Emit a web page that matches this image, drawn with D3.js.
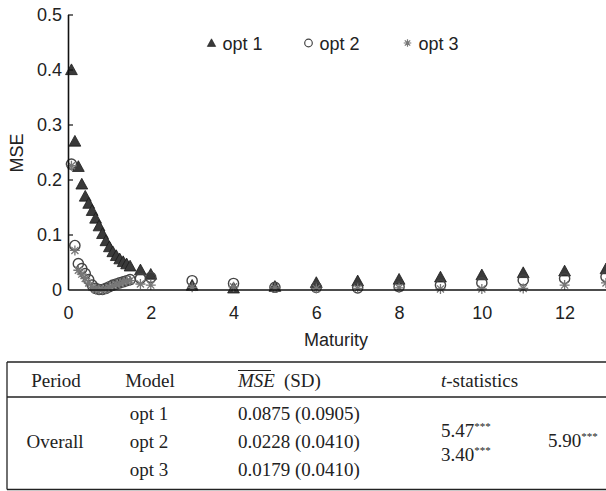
<!DOCTYPE html>
<html>
<head>
<meta charset="utf-8">
<script src="https://cdn.jsdelivr.net/npm/d3@7"></script>
<style>
  body { margin: 0; background: #fff; }
  svg { display: block; }
  .sans { font-family: "Liberation Sans", Arial, sans-serif; fill: #222; }
  .serif { font-family: "Liberation Serif", "Times New Roman", serif; fill: #222; }
</style>
</head>
<body>
<svg id="fig" width="606" height="491"></svg>
<script>
// maturities (years)
const maturity = [1/12, 2/12, 3/12, 4/12, 5/12, 6/12, 7/12, 8/12, 9/12, 10/12, 11/12, 1,
                  13/12, 14/12, 15/12, 16/12, 17/12, 18/12, 1.75, 2,
                  3, 4, 5, 6, 7, 8, 9, 10, 11, 12, 13];
const opt1 = [0.398, 0.268, 0.222, 0.190, 0.168, 0.155, 0.142, 0.128, 0.114, 0.100, 0.087, 0.076,
              0.067, 0.060, 0.054, 0.049, 0.045, 0.041, 0.034, 0.026,
              0.006, 0.001, 0.004, 0.011, 0.014, 0.017, 0.021, 0.025, 0.029, 0.032, 0.036];
const opt2 = [0.228, 0.080, 0.047, 0.038, 0.029, 0.018, 0.008, 0.002, 0.000, 0.000, 0.002, 0.005,
              0.008, 0.010, 0.012, 0.014, 0.016, 0.018, 0.020, 0.022,
              0.016, 0.011, 0.004, 0.004, 0.003, 0.005, 0.008, 0.012, 0.017, 0.020, 0.023];
const opt3 = [0.225, 0.071, 0.035, 0.028, 0.020, 0.012, 0.004, 0.000, 0.000, 0.000, 0.001, 0.004,
              0.007, 0.009, 0.011, 0.013, 0.015, 0.016, 0.010, 0.008,
              0.004, 0.005, 0.003, 0.002, 0.002, 0.003, 0.001, 0.001, 0.002, 0.008, 0.012];

const xTicks = [0, 2, 4, 6, 8, 10, 12];
const yTicks = [0, 0.1, 0.2, 0.3, 0.4, 0.5];
const seriesNames = ["opt 1", "opt 2", "opt 3"];

// table contents
const tableHead = ["Period", "Model", "(SD)", "-statistics"];
const models = ["opt 1", "opt 2", "opt 3"];
const mseText = ["0.0875 (0.0905)", "0.0228 (0.0410)", "0.0179 (0.0410)"];
const tStats = ["5.47", "3.40", "5.90"];

const svg = d3.select("#fig");

let x = d3.scaleLinear().domain([0, 13]).range([68, 606]);
let y = d3.scaleLinear().domain([0, 0.5]).range([289.5, 14.5]);

// marker shapes
const triPath = s => `M0,${-s}L${s},${s * 0.82}L${-s},${s * 0.82}Z`;
const starPath = s => {
  let d = "";
  for (let k = 0; k < 4; k++) {
    let a = k * Math.PI / 4;
    let dx = s * Math.sin(a), dy = s * Math.cos(a);
    d += `M${-dx},${-dy}L${dx},${dy}`;
  }
  return d;
};

const pts = maturity.map((m, i) => ({m: m, a: opt1[i], b: opt2[i], c: opt3[i]}));

// opt 1 triangles
svg.append("g").selectAll("path")
  .data(pts).enter().append("path")
  .attr("d", triPath(5.9))
  .attr("transform", d => `translate(${x(d.m)},${y(d.a) - 0.8})`)
  .style("fill", "#3a3a3a")
  .style("stroke", "#1a1a1a")
  .style("stroke-width", 0.8);

// opt 2 circles
svg.append("g").selectAll("circle")
  .data(pts).enter().append("circle")
  .attr("cx", d => x(d.m))
  .attr("cy", d => y(d.b))
  .attr("r", 5.1)
  .style("fill", "none")
  .style("stroke", "#444")
  .style("stroke-width", 1.4);

// opt 3 asterisks
svg.append("g").selectAll("path")
  .data(pts).enter().append("path")
  .attr("d", starPath(5))
  .attr("transform", d => `translate(${x(d.m)},${y(d.c)})`)
  .style("fill", "none")
  .style("stroke", "#777")
  .style("stroke-width", 1.3);

// axes
let yAxis = d3.axisLeft(y).tickValues(yTicks).tickSize(-5).tickSizeOuter(0)
  .tickPadding(6).tickFormat(d => d);
let xAxis = d3.axisBottom(x).tickValues(xTicks).tickSize(0).tickSizeOuter(0)
  .tickPadding(17).tickFormat(d => d);

let gx = svg.append("g").attr("transform", `translate(0,${y(0)})`).call(xAxis);
let gy = svg.append("g").attr("transform", `translate(${x(0)},0)`).call(yAxis);

[gx, gy].forEach(g => {
  g.select(".domain").style("stroke", "#111").style("stroke-width", 1.6);
  g.selectAll(".tick line").style("stroke", "#111").style("stroke-width", 1.2);
  g.selectAll("text").attr("class", "sans").style("font-size", "18px");
});
gy.selectAll(".tick").filter(d => d === 0).select("line").remove();

svg.append("text").attr("class", "sans")
  .attr("transform", "translate(23,153) rotate(-90)")
  .attr("text-anchor", "middle")
  .style("font-size", "18px")
  .text("MSE");

svg.append("text").attr("class", "sans")
  .attr("x", 336).attr("y", 346)
  .attr("text-anchor", "middle")
  .style("font-size", "18px")
  .text("Maturity");

// legend
const legX = [211.5, 308.5, 407.5];
const leg = svg.append("g");
leg.append("path").attr("d", triPath(4.2))
  .attr("transform", `translate(${legX[0]},43)`)
  .style("fill", "#3a3a3a").style("stroke", "#1a1a1a").style("stroke-width", 0.6);
leg.append("circle").attr("cx", legX[1]).attr("cy", 43).attr("r", 3.8)
  .style("fill", "none").style("stroke", "#444").style("stroke-width", 1.2);
leg.append("path").attr("d", starPath(3.8))
  .attr("transform", `translate(${legX[2]},43)`)
  .style("fill", "none").style("stroke", "#777").style("stroke-width", 1.2);
leg.selectAll("text").data(seriesNames).enter().append("text")
  .attr("class", "sans")
  .attr("x", (d, i) => legX[i] + 11)
  .attr("y", 49.5)
  .style("font-size", "18px")
  .text(d => d);

// table
const tb = svg.append("g");
const lineStyle = sel => sel.style("stroke", "#222").style("stroke-width", 1.3);
tb.append("line").attr("x1", 7).attr("x2", 606).attr("y1", 362).attr("y2", 362).call(lineStyle);
tb.append("line").attr("x1", 7).attr("x2", 606).attr("y1", 397).attr("y2", 397).call(lineStyle);
tb.append("line").attr("x1", 7).attr("x2", 606).attr("y1", 489.5).attr("y2", 489.5).call(lineStyle);
tb.append("line").attr("x1", 7).attr("x2", 7).attr("y1", 362).attr("y2", 489.5).call(lineStyle);

const fs = "19px";
tb.append("text").attr("class", "serif").attr("x", 56).attr("y", 387)
  .attr("text-anchor", "middle").style("font-size", fs).text(tableHead[0]);
tb.append("text").attr("class", "serif").attr("x", 150).attr("y", 387)
  .attr("text-anchor", "middle").style("font-size", fs).text(tableHead[1]);
let mh = tb.append("text").attr("class", "serif").attr("x", 238).attr("y", 387)
  .style("font-size", fs);
mh.append("tspan").style("font-style", "italic").text("MSE");
mh.append("tspan").attr("dx", 9).text(tableHead[2]);
tb.append("line").attr("x1", 238).attr("x2", 271).attr("y1", 370.5).attr("y2", 370.5)
  .style("stroke", "#222").style("stroke-width", 1);
let th = tb.append("text").attr("class", "serif").attr("x", 441).attr("y", 387)
  .style("font-size", fs);
th.append("tspan").style("font-style", "italic").text("t");
th.append("tspan").text(tableHead[3]);

tb.append("text").attr("class", "serif").attr("x", 55).attr("y", 448)
  .attr("text-anchor", "middle").style("font-size", fs).text("Overall");

const rowY = [420, 448, 476];
tb.selectAll(".model").data(models).enter().append("text")
  .attr("class", "serif model")
  .attr("x", 149).attr("y", (d, i) => rowY[i])
  .attr("text-anchor", "middle").style("font-size", fs).text(d => d);
tb.selectAll(".mse").data(mseText).enter().append("text")
  .attr("class", "serif mse")
  .attr("x", 238).attr("y", (d, i) => rowY[i])
  .style("font-size", fs).text(d => d);

const tPos = [[441, 437], [441, 461], [548, 447]];
tStats.forEach((t, i) => {
  let tx = tb.append("text").attr("class", "serif")
    .attr("x", tPos[i][0]).attr("y", tPos[i][1]).style("font-size", fs);
  tx.append("tspan").text(t);
  tx.append("tspan").attr("dy", -7).style("font-size", "11px").text("***");
});
</script>
</body>
</html>
